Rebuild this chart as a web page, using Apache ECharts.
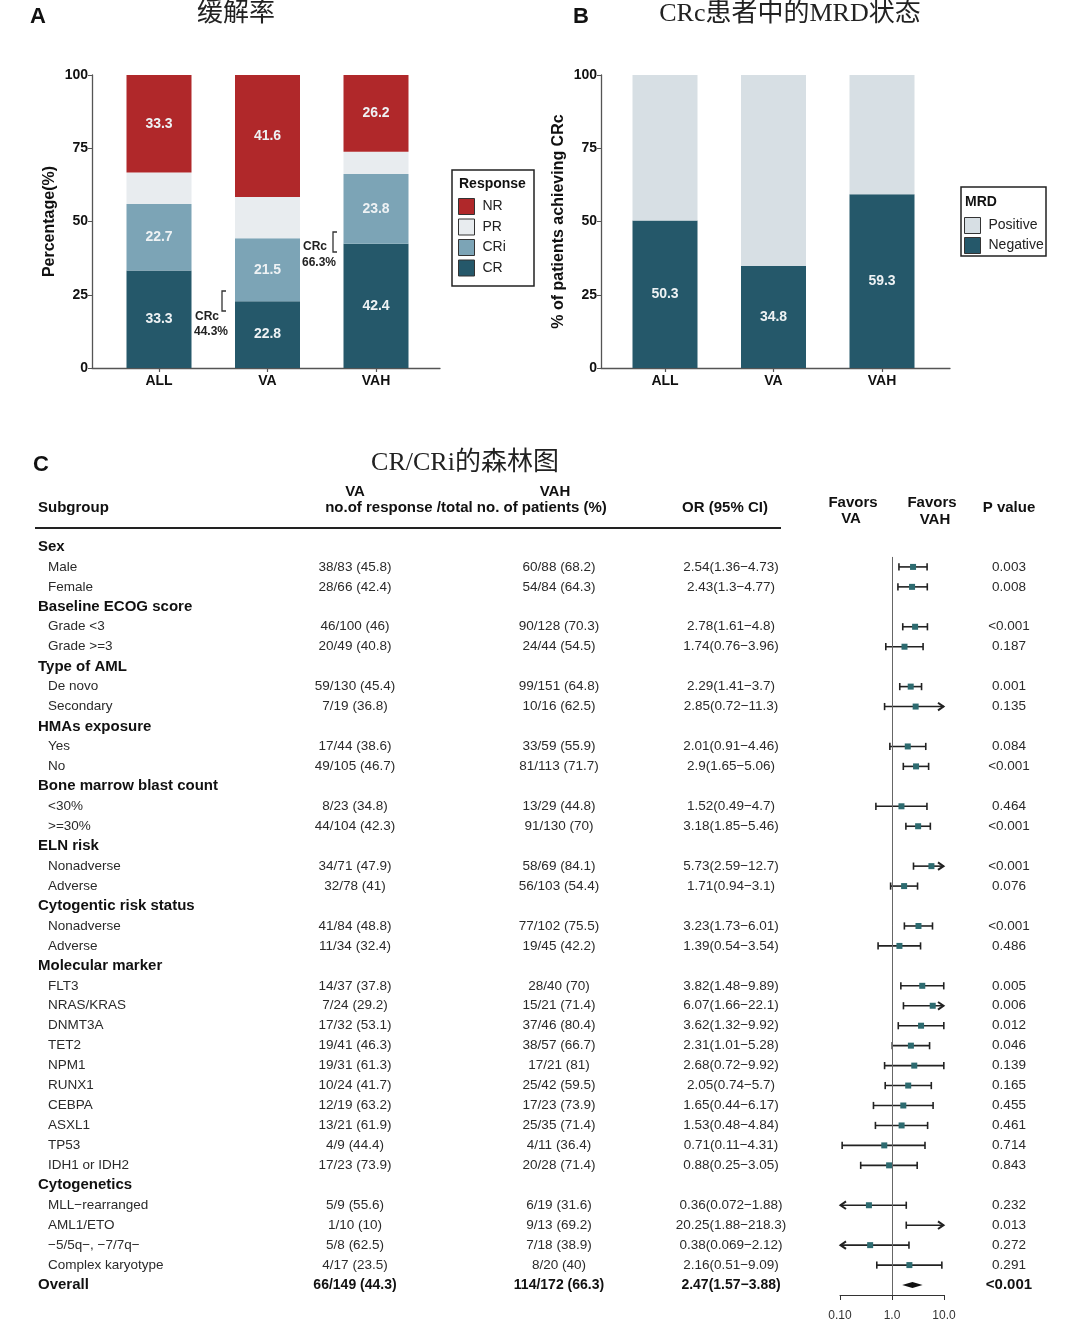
<!DOCTYPE html>
<html><head><meta charset="utf-8">
<script src="https://cdn.jsdelivr.net/npm/echarts@6/dist/echarts.min.js"></script>
<style>html,body{margin:0;padding:0;background:#fff}#c{width:1080px;height:1332px}</style>
</head><body><div id="c"></div>
<script>
const FONT = "'Liberation Sans', Arial, Helvetica, sans-serif";
const TITLE_FONT = "'Liberation Serif', 'Noto Sans CJK SC', serif";

// ---------- Panel A: response ----------
const respCategories = ['ALL', 'VA', 'VAH'];
const crVals  = [33.3, 22.8, 42.4];
const criVals = [22.7, 21.5, 23.8];
const prVals  = [10.7, 14.1, 7.6];
const nrVals  = [33.3, 41.6, 26.2];
const respLegend = ['NR', 'PR', 'CRi', 'CR'];
const crcNotes = [['CRc', '44.3%'], ['CRc', '66.3%']];

// ---------- Panel B: MRD ----------
const mrdCategories = ['ALL', 'VA', 'VAH'];
const mrdNeg = [50.3, 34.8, 59.3];
const mrdPos = [49.7, 65.2, 40.7];
const mrdLegend = ['Positive', 'Negative'];

// ---------- Panel C: forest ----------
const subgroupLabels = ['Sex','Male','Female','Baseline ECOG score','Grade <3','Grade >=3','Type of AML','De novo','Secondary','HMAs exposure','Yes','No','Bone marrow blast count','<30%','>=30%','ELN risk','Nonadverse','Adverse','Cytogentic risk status','Nonadverse','Adverse','Molecular marker','FLT3','NRAS/KRAS','DNMT3A','TET2','NPM1','RUNX1','CEBPA','ASXL1','TP53','IDH1 or IDH2','Cytogenetics','MLL\u2212rearranged','AML1/ETO','\u22125/5q\u2212, \u22127/7q\u2212','Complex karyotype','Overall'];
const vaText = ['','38/83 (45.8)','28/66 (42.4)','','46/100 (46)','20/49 (40.8)','','59/130 (45.4)','7/19 (36.8)','','17/44 (38.6)','49/105 (46.7)','','8/23 (34.8)','44/104 (42.3)','','34/71 (47.9)','32/78 (41)','','41/84 (48.8)','11/34 (32.4)','','14/37 (37.8)','7/24 (29.2)','17/32 (53.1)','19/41 (46.3)','19/31 (61.3)','10/24 (41.7)','12/19 (63.2)','13/21 (61.9)','4/9 (44.4)','17/23 (73.9)','','5/9 (55.6)','1/10 (10)','5/8 (62.5)','4/17 (23.5)','66/149 (44.3)'];
const vahText = ['','60/88 (68.2)','54/84 (64.3)','','90/128 (70.3)','24/44 (54.5)','','99/151 (64.8)','10/16 (62.5)','','33/59 (55.9)','81/113 (71.7)','','13/29 (44.8)','91/130 (70)','','58/69 (84.1)','56/103 (54.4)','','77/102 (75.5)','19/45 (42.2)','','28/40 (70)','15/21 (71.4)','37/46 (80.4)','38/57 (66.7)','17/21 (81)','25/42 (59.5)','17/23 (73.9)','25/35 (71.4)','4/11 (36.4)','20/28 (71.4)','','6/19 (31.6)','9/13 (69.2)','7/18 (38.9)','8/20 (40)','114/172 (66.3)'];
const orEst  = [null,2.54,2.43,null,2.78,1.74,null,2.29,2.85,null,2.01,2.9,null,1.52,3.18,null,5.73,1.71,null,3.23,1.39,null,3.82,6.07,3.62,2.31,2.68,2.05,1.65,1.53,0.71,0.88,null,0.36,20.25,0.38,2.16,2.47];
const orLow  = [null,1.36,1.3,null,1.61,0.76,null,1.41,0.72,null,0.91,1.65,null,0.49,1.85,null,2.59,0.94,null,1.73,0.54,null,1.48,1.66,1.32,1.01,0.72,0.74,0.44,0.48,0.11,0.25,null,0.072,1.88,0.069,0.51,1.57];
const orHigh = [null,4.73,4.77,null,4.8,3.96,null,3.7,11.3,null,4.46,5.06,null,4.7,5.46,null,12.7,3.1,null,6.01,3.54,null,9.89,22.1,9.92,5.28,9.92,5.7,6.17,4.84,4.31,3.05,null,1.88,218.3,2.12,9.09,3.88];
const pText = ['','0.003','0.008','','<0.001','0.187','','0.001','0.135','','0.084','<0.001','','0.464','<0.001','','<0.001','0.076','','<0.001','0.486','','0.005','0.006','0.012','0.046','0.139','0.165','0.455','0.461','0.714','0.843','','0.232','0.013','0.272','0.291','<0.001'];
const orText = orEst.map((e, i) => e == null ? '' : `${e}(${orLow[i]}\u2212${orHigh[i]})`);
const forestTicks = [0.1, 1, 10];
const forestTickLabels = ['0.10', '1.0', '10.0'];

// ---------- styles ----------
const C_NR = '#b0282a', C_PR = '#e8ecef', C_CRI = '#7ca4b6', C_CR = '#25586a';
const C_POS = '#d7dfe4', C_NEG = '#25586a';
const LAST = subgroupLabels.length - 1;
const NROWS = subgroupLabels.length;
const AXC = '#555';

function catAxis(grid, cats) {
  return {
    gridIndex: grid, type: 'category', data: cats, boundaryGap: true,
    axisLine: { show: false },
    axisTick: { show: true, alignWithLabel: true, length: 4, lineStyle: { color: AXC, width: 1.2 } },
    axisLabel: { color: '#111', fontWeight: 'bold', fontSize: 14, fontFamily: FONT, margin: 6 },
    splitLine: { show: false }
  };
}
function frameX(grid) {
  return { gridIndex: grid, type: 'value', min: 0, max: 1,
    axisLine: { show: true, onZero: false, lineStyle: { color: AXC, width: 1.3 } },
    axisTick: { show: false }, axisLabel: { show: false }, splitLine: { show: false } };
}
function frameY(grid, name) {
  return {
    gridIndex: grid, type: 'value', min: 0, max: 100, interval: 25,
    name, nameLocation: 'middle', nameGap: 34,
    nameTextStyle: { fontSize: 16, fontWeight: 'bold', color: '#111', fontFamily: FONT },
    axisLine: { show: true, lineStyle: { color: AXC, width: 1.3 } },
    axisTick: { show: true, length: 4, lineStyle: { color: AXC } },
    axisLabel: { color: '#111', fontWeight: 'bold', fontSize: 14, fontFamily: FONT, margin: 4 },
    splitLine: { show: false }
  };
}
function hiddenY(grid) { return { gridIndex: grid, type: 'value', min: 0, max: 100, show: false }; }

const barLabel = { show: true, position: 'inside', color: '#eef2f4', fontWeight: 'bold', fontSize: 14, fontFamily: FONT };
function barSeries(name, vals, color, ai, stack, withLabel) {
  return {
    type: 'bar', name, xAxisIndex: ai, yAxisIndex: ai, stack, barWidth: 65,
    itemStyle: { color }, label: withLabel ? barLabel : { show: false },
    data: vals, silent: true
  };
}

// ---------- forest renderer ----------
function renderForest(params, api) {
  const est = api.value(0), lo = api.value(1), hi = api.value(2), y = api.value(3), overall = api.value(4);
  const xmin = forestTicks[0], xmax = forestTicks[forestTicks.length - 1];
  const pL = api.coord([Math.max(lo, xmin), y]);
  const pR = api.coord([Math.min(hi, xmax), y]);
  const cy = pL[1];
  const ch = [];
  if (overall) {
    const pE = api.coord([est, y]);
    ch.push({ type: 'polygon', shape: { points: [[pL[0], cy], [pE[0], cy - 3], [pR[0], cy], [pE[0], cy + 3]] }, style: { fill: '#111' } });
    return { type: 'group', children: ch };
  }
  const ls = { stroke: '#222', lineWidth: 1.6 };
  ch.push({ type: 'line', shape: { x1: pL[0], y1: cy, x2: pR[0], y2: cy }, style: ls });
  if (lo < xmin) ch.push({ type: 'polyline', shape: { points: [[pL[0] + 6, cy - 3.8], [pL[0] + 0.5, cy], [pL[0] + 6, cy + 3.8]] }, style: { stroke: '#222', lineWidth: 2, fill: 'none' } });
  else ch.push({ type: 'line', shape: { x1: pL[0], y1: cy - 3.6, x2: pL[0], y2: cy + 3.6 }, style: ls });
  if (hi > xmax) ch.push({ type: 'polyline', shape: { points: [[pR[0] - 6, cy - 3.8], [pR[0] - 0.5, cy], [pR[0] - 6, cy + 3.8]] }, style: { stroke: '#222', lineWidth: 2, fill: 'none' } });
  else ch.push({ type: 'line', shape: { x1: pR[0], y1: cy - 3.6, x2: pR[0], y2: cy + 3.6 }, style: ls });
  if (est >= xmin && est <= xmax) {
    const pE = api.coord([est, y]);
    ch.push({ type: 'rect', shape: { x: pE[0] - 3, y: cy - 3, width: 6, height: 6 }, style: { fill: '#2d6b70' } });
  }
  return { type: 'group', children: ch };
}
const forestData = [];
orEst.forEach((e, i) => { if (e != null) forestData.push([e, orLow[i], orHigh[i], i + 0.5, i === LAST ? 1 : 0]); });

// ---------- table text series ----------
function textSeries(texts, x, align, fontFn, colorFn) {
  return {
    type: 'custom', xAxisIndex: 3, yAxisIndex: 3, silent: true,
    data: texts.map((_, i) => [x, i + 0.5]),
    encode: { x: 0, y: 1 },
    renderItem: (params, api) => {
      const i = params.dataIndex, t = texts[i];
      if (!t) return null;
      const p = api.coord([api.value(0), api.value(1)]);
      return { type: 'text', x: p[0], y: p[1], style: { text: t, font: fontFn(i), fill: colorFn(i), align, verticalAlign: 'middle' } };
    }
  };
}
const isGroup = i => vaText[i] === '' || i === LAST;
const groupTexts = subgroupLabels.map((s, i) => isGroup(i) ? s : '');
const itemTexts = subgroupLabels.map((s, i) => isGroup(i) ? '' : s);
const regFont = i => (i === LAST ? 'bold 14px ' : '13.5px ') + FONT;
const regColor = i => i === LAST ? '#111' : '#2a2a2a';

// ---------- graphics ----------
function txt(x, y, text, font, align, fill) {
  return { type: 'text', x, y, silent: true, style: { text, font, fill: fill || '#111', align: align || 'center', verticalAlign: 'middle' } };
}
const HB = 'bold 15px ' + FONT;
const graphics = [
  txt(38, 17, 'A', 'bold 22px ' + FONT), txt(581, 17, 'B', 'bold 22px ' + FONT), txt(41, 465, 'C', 'bold 22px ' + FONT),
  txt(236, 14, '缓解率', '26px ' + TITLE_FONT, 'center', '#222'),
  txt(790, 14, 'CRc患者中的MRD状态', '26px ' + TITLE_FONT, 'center', '#222'),
  txt(465, 463, 'CR/CRi的森林图', '26px ' + TITLE_FONT, 'center', '#222'),
  { type: 'rect', silent: true, shape: { x: 452, y: 170, width: 82, height: 116 }, style: { fill: 'none', stroke: '#222', lineWidth: 1.5 } },
  txt(459, 184, 'Response', 'bold 14px ' + FONT, 'left'),
  { type: 'rect', silent: true, shape: { x: 961, y: 187, width: 85, height: 69 }, style: { fill: 'none', stroke: '#222', lineWidth: 1.5 } },
  txt(965, 202, 'MRD', 'bold 14px ' + FONT, 'left'),
  { type: 'polyline', silent: true, shape: { points: [[226, 291], [222, 291], [222, 311], [226, 311]] }, style: { stroke: '#333', lineWidth: 1.3, fill: 'none' } },
  txt(195, 317, crcNotes[0][0], 'bold 12px ' + FONT, 'left', '#222'),
  txt(194, 332, crcNotes[0][1], 'bold 12px ' + FONT, 'left', '#222'),
  { type: 'polyline', silent: true, shape: { points: [[337, 232], [333, 232], [333, 252], [337, 252]] }, style: { stroke: '#333', lineWidth: 1.3, fill: 'none' } },
  txt(303, 247, crcNotes[1][0], 'bold 12px ' + FONT, 'left', '#222'),
  txt(302, 263, crcNotes[1][1], 'bold 12px ' + FONT, 'left', '#222'),
  txt(38, 508, 'Subgroup', HB, 'left'),
  txt(355, 492, 'VA', HB), txt(555, 492, 'VAH', HB),
  txt(466, 508, 'no.of response /total no. of patients (%)', HB),
  txt(725, 508, 'OR (95% CI)', HB),
  txt(853, 503, 'Favors', HB), txt(851, 519, 'VA', HB),
  txt(932, 503, 'Favors', HB), txt(935, 520, 'VAH', HB),
  txt(1009, 508, 'P value', HB),
  { type: 'line', silent: true, shape: { x1: 35, y1: 528, x2: 781, y2: 528 }, style: { stroke: '#222', lineWidth: 2 } }
];

const legendCommon = {
  orient: 'vertical', itemWidth: 16, itemHeight: 16, icon: 'rect', selectedMode: false, padding: 0,
  textStyle: { fontSize: 14, color: '#222', fontFamily: FONT, padding: [0, 0, 0, 3] },
  itemStyle: { borderColor: '#333', borderWidth: 1 }
};

const option = {
  animation: false,
  backgroundColor: '#fff',
  textStyle: { fontFamily: FONT },
  grid: [
    { left: 104.75, top: 75, width: 325.5, height: 293 },
    { left: 610.75, top: 75, width: 325.5, height: 293 },
    { left: 840, top: 537, width: 104, height: 758 },
    { left: 0, top: 537, width: 1080, height: 758 },
    { left: 92, top: 75, width: 348, height: 293 },
    { left: 601, top: 75, width: 349, height: 293 }
  ],
  xAxis: [
    catAxis(0, respCategories),
    catAxis(1, mrdCategories),
    {
      gridIndex: 2, type: 'log', logBase: 10, min: forestTicks[0], max: forestTicks[forestTicks.length - 1],
      axisLine: { show: true, onZero: false, lineStyle: { color: '#333', width: 1 } },
      axisTick: { show: true, length: 5, lineStyle: { color: '#333' } },
      axisLabel: { fontSize: 12, color: '#333', margin: 15, fontFamily: FONT,
        formatter: v => { let k = 0; forestTicks.forEach((t, j) => { if (Math.abs(Math.log10(t) - Math.log10(v)) < 0.01) k = j; }); return forestTickLabels[k]; } },
      splitLine: { show: false }
    },
    { gridIndex: 3, type: 'value', min: 0, max: 1080, show: false },
    frameX(4),
    frameX(5)
  ],
  yAxis: [
    hiddenY(0),
    hiddenY(1),
    { gridIndex: 2, type: 'value', min: 0, max: NROWS, inverse: true, show: false },
    { gridIndex: 3, type: 'value', min: 0, max: NROWS, inverse: true, show: false },
    frameY(4, 'Percentage(%)'),
    frameY(5, '% of patients achieving CRc')
  ],
  legend: [
    Object.assign({}, legendCommon, { data: respLegend, left: 458, top: 198, itemGap: 3.5 }),
    Object.assign({}, legendCommon, { data: mrdLegend, left: 964, top: 217, itemGap: 3 })
  ],
  series: [
    barSeries('CR', crVals, C_CR, 0, 'resp', true),
    barSeries('CRi', criVals, C_CRI, 0, 'resp', true),
    barSeries('PR', prVals, C_PR, 0, 'resp', false),
    barSeries('NR', nrVals, C_NR, 0, 'resp', true),
    barSeries('Negative', mrdNeg, C_NEG, 1, 'mrd', true),
    barSeries('Positive', mrdPos, C_POS, 1, 'mrd', false),
    {
      type: 'custom', name: 'forest', xAxisIndex: 2, yAxisIndex: 2, silent: true,
      data: forestData, encode: { x: [0, 1, 2], y: 3 },
      renderItem: renderForest,
      markLine: {
        silent: true, symbol: ['none', 'none'], label: { show: false },
        lineStyle: { color: '#666', width: 1, type: 'solid' },
        data: [[{ coord: [1, 1] }, { coord: [1, NROWS] }]]
      }
    },
    textSeries(groupTexts, 38, 'left', () => 'bold 15px ' + FONT, () => '#111'),
    textSeries(itemTexts, 48, 'left', () => '13.5px ' + FONT, () => '#2a2a2a'),
    textSeries(vaText, 355, 'center', regFont, regColor),
    textSeries(vahText, 559, 'center', regFont, regColor),
    textSeries(orText, 731, 'center', regFont, regColor),
    textSeries(pText, 1009, 'center', i => (i === LAST ? 'bold 15px ' : '13.5px ') + FONT, regColor)
  ],
  graphic: { elements: graphics }
};
const chart = echarts.init(document.getElementById('c'), null, { renderer: 'canvas' });
chart.setOption(option);
</script>
</body></html>
